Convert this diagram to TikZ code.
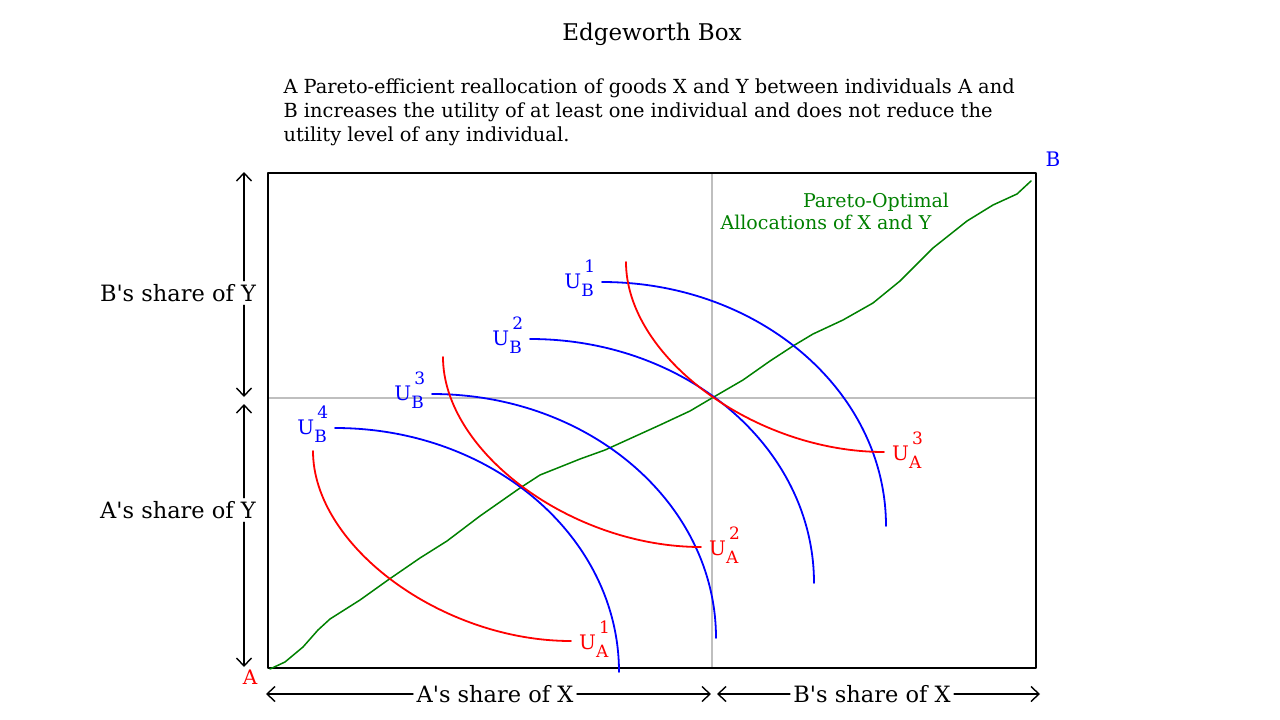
\documentclass[tikz,border=0pt]{standalone}
\usepackage{fontspec}
\setmainfont{DejaVu Serif}
\usepackage{tikz}
\usetikzlibrary{arrows.meta}
\definecolor{qqqqff}{rgb}{0.,0.,1.}
\definecolor{ffqqqq}{rgb}{1.,0.,0.}
\definecolor{qqwuqq}{rgb}{0.,0.5,0.}
\definecolor{bfbfbf}{rgb}{0.75,0.75,0.75}
% U with sub- and superscript set almost full size
\newcommand{\ulab}[2]{U\rlap{\raisebox{0.78em}{\kern0.15em\fontsize{17}{17}\selectfont#2}}\raisebox{-0.42em}{\fontsize{17}{17}\selectfont#1}}

\begin{document}
\begin{tikzpicture}[line cap=round,line join=round,>={Straight Barb[length=8pt,width=15pt]},x=1pt,y=-1pt,
	curve/.style={line width=1.8pt},
	ulabel/.style={inner sep=0pt,font=\fontsize{20}{20}\selectfont},
	axlab/.style={font=\fontsize{22.5}{22.5}\selectfont},
	axarrow/.style={->,line width=1.4pt}]
	\useasboundingbox (0,0) rectangle (1280,720);
	\node (title) at (652,34) {\fontsize{23}{26}\selectfont Edgeworth Box};
	\node[anchor=north west,align=left,font=\fontsize{19.4}{24}\selectfont] (desc) at (280,75) {A Pareto-efficient reallocation of goods X and Y between individuals A and\\B increases the utility of at least one individual and does not reduce the\\utility level of any individual.};
	% the box
	\coordinate (A) at (268,668);
	\coordinate (B) at (1036,173);
	\coordinate (E) at (712,398);
	\draw[bfbfbf,line width=1.5pt] (E |- B) -- (E |- A);
	\draw[bfbfbf,line width=1.5pt] (E -| A) -- (E -| B);
	\draw[line width=1.8pt] (A) rectangle (B);
	\node[ffqqqq,font=\fontsize{20}{20}\selectfont] (labA) at (250,677) {A};
	\node[qqqqff,font=\fontsize{20}{20}\selectfont] (labB) at (1053,159) {B};
	% contract curve
	\draw[qqwuqq,line width=1.5pt] (270,669) -- (285,662) -- (303,647) -- (318,630) -- (330,619) -- (360,600) -- (388,580) -- (420,558) -- (447,541) -- (480,516) -- (520,488) -- (540,475) -- (580,459) -- (605,450) -- (660,425) -- (690,411) -- (712,398) -- (743,380) -- (770,361) -- (793,346) -- (813,334) -- (843,320) -- (873,303) -- (900,281) -- (933,248) -- (967,221) -- (993,205) -- (1017,194) -- (1031,181);
	\node[qqwuqq,font=\fontsize{19}{19}\selectfont] (po1) at (876,202) {Pareto-Optimal};
	\node[qqwuqq,font=\fontsize{19}{19}\selectfont] (po2) at (826,222) {Allocations of X and Y};
	% B's indifference curves
	\foreach \x/\y/\k in {602/282/1,530/339/2,432/394/3,335/428/4}{
		\coordinate (ub\k) at (\x,\y);
		\draw[qqqqff,curve] (ub\k) .. controls +(157,0) and +(0,-135) .. ++(284,244);
		\node[qqqqff,ulabel,anchor=base east,xshift=-8pt,yshift=-6pt] at (ub\k) {\ulab{B}{\k}};
	}
	% A's indifference curves
	\foreach \x/\y/\k in {313/451/1,443/357/2,626/262/3}{
		\coordinate (ua\k) at (\x,\y);
		\draw[ffqqqq,curve] (ua\k) .. controls +(0,95) and +(-129,0) .. ++(258,190) coordinate (ea\k);
		\node[ffqqqq,ulabel,anchor=base west,xshift=8pt,yshift=-8pt] at (ea\k) {\ulab{A}{\k}};
	}
	% shares along the sides
	\coordinate (yt) at (244,172);
	\coordinate (ym1) at (244,397);
	\coordinate (ym2) at (244,404);
	\coordinate (yb) at (244,667);
	\node[axlab] (bshY) at (178,293) {B\textquotesingle s share of Y};
	\node[axlab] (ashY) at (178,510) {A\textquotesingle s share of Y};
	\draw[axarrow] (bshY.north -| yt) -- (yt);
	\draw[axarrow] (bshY.south -| yt) -- (ym1);
	\draw[axarrow] (ashY.north -| yt) -- (ym2);
	\draw[axarrow] (ashY.south -| yt) -- (yb);
	\coordinate (xl) at (266,694);
	\coordinate (xm1) at (711,694);
	\coordinate (xm2) at (717,694);
	\coordinate (xr) at (1040,694);
	\node[axlab] (ashX) at (495,694) {A\textquotesingle s share of X};
	\node[axlab] (bshX) at (872,694) {B\textquotesingle s share of X};
	\draw[axarrow] (ashX.west) -- (xl);
	\draw[axarrow] (ashX.east) -- (xm1);
	\draw[axarrow] (bshX.west) -- (xm2);
	\draw[axarrow] (bshX.east) -- (xr);
\end{tikzpicture}
\end{document}
